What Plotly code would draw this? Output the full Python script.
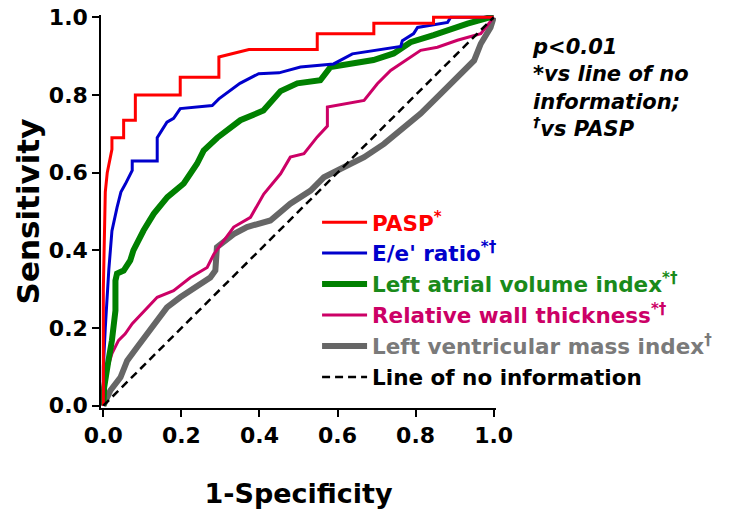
import plotly.graph_objects as go

# ---- data ----
pasp_x = [0.0, 0.0, 0.003, 0.005, 0.010, 0.018, 0.022, 0.022, 0.052, 0.052, 0.082, 0.082, 0.197, 0.197,
          0.296, 0.296, 0.373, 0.548, 0.548, 0.693, 0.693, 0.846, 0.846, 1.0]
pasp_y = [0.0, 0.30, 0.45, 0.55, 0.60, 0.64, 0.66, 0.69, 0.69, 0.735, 0.735, 0.80, 0.80, 0.846,
          0.846, 0.898, 0.917, 0.917, 0.958, 0.958, 0.985, 0.985, 1.0, 1.0]

ee_x = [0.0, 0.0, 0.005, 0.010, 0.014, 0.018, 0.022, 0.035, 0.045, 0.056, 0.074, 0.074, 0.138, 0.138,
        0.163, 0.180, 0.197, 0.279, 0.296, 0.350, 0.398, 0.450, 0.505, 0.590, 0.638, 0.762, 0.766,
        0.795, 0.805, 0.882, 0.890, 1.0]
ee_y = [0.0, 0.10, 0.20, 0.30, 0.35, 0.40, 0.45, 0.51, 0.55, 0.57, 0.606, 0.63, 0.63, 0.69,
        0.73, 0.74, 0.765, 0.773, 0.79, 0.83, 0.855, 0.857, 0.872, 0.88, 0.906, 0.925, 0.94,
        0.958, 0.974, 0.987, 1.0, 1.0]

lavi_x = [0.0, 0.002, 0.013, 0.022, 0.031, 0.031, 0.035, 0.052, 0.069, 0.077, 0.103, 0.129, 0.164,
          0.206, 0.240, 0.257, 0.292, 0.351, 0.410, 0.454, 0.497, 0.556, 0.582, 0.692, 0.744, 0.787,
          0.846, 0.864, 0.933, 0.990, 1.0]
lavi_y = [0.0, 0.047, 0.116, 0.168, 0.245, 0.322, 0.340, 0.348, 0.374, 0.400, 0.451, 0.494, 0.537,
          0.572, 0.623, 0.657, 0.690, 0.735, 0.760, 0.810, 0.830, 0.838, 0.872, 0.890, 0.907, 0.936,
          0.954, 0.961, 0.984, 1.0, 1.0]

rwt_x = [0.0, 0.0, 0.009, 0.022, 0.039, 0.056, 0.074, 0.112, 0.138, 0.180, 0.223, 0.266, 0.283,
         0.334, 0.377, 0.411, 0.454, 0.479, 0.514, 0.548, 0.574, 0.574, 0.668, 0.702, 0.736, 0.813,
         0.856, 0.907, 0.967, 1.0]
rwt_y = [0.0, 0.030, 0.090, 0.134, 0.168, 0.185, 0.211, 0.253, 0.279, 0.296, 0.330, 0.356, 0.390,
         0.460, 0.485, 0.545, 0.597, 0.640, 0.649, 0.692, 0.720, 0.769, 0.786, 0.829, 0.863, 0.915,
         0.923, 0.941, 0.958, 1.0]

lvmi_x = [0.0, 0.018, 0.044, 0.061, 0.086, 0.112, 0.138, 0.163, 0.197, 0.240, 0.274, 0.287, 0.291,
          0.334, 0.368, 0.428, 0.479, 0.531, 0.565, 0.616, 0.668, 0.719, 0.750, 0.813, 0.864, 0.907,
          0.950, 0.967, 0.992, 1.0]
lvmi_y = [0.0, 0.039, 0.073, 0.116, 0.150, 0.185, 0.219, 0.253, 0.279, 0.305, 0.330, 0.348, 0.408,
          0.442, 0.460, 0.477, 0.520, 0.554, 0.588, 0.614, 0.640, 0.674, 0.700, 0.752, 0.803, 0.846,
          0.889, 0.932, 0.974, 1.0]

ref_x = [0.0, 1.0]
ref_y = [0.0, 1.0]

tick_vals = [0.0, 0.2, 0.4, 0.6, 0.8, 1.0]
tick_text = ["0.0", "0.2", "0.4", "0.6", "0.8", "1.0"]

FONT = "DejaVu Sans"

def lbl(text, sup, color):
    s = f'<span style="color:{color}">{text}'
    if sup:
        s += f'<sup>{sup}</sup>'
    return s + '</span>'

series = [
    # (x, y, name, sup, line colour, text colour, width, rank)
    (lvmi_x, lvmi_y, "Left ventricular mass index", "\u2020", "#666666", "#7a7a7a", 6, 5),
    (rwt_x, rwt_y, "Relative wall thickness", "*\u2020", "#cc0066", "#cc0066", 3, 4),
    (lavi_x, lavi_y, "Left atrial volume index", "*\u2020", "#008000", "#1a8a1a", 6, 3),
    (ee_x, ee_y, "E/e' ratio", "*\u2020", "#0000cc", "#0000cc", 3, 2),
    (pasp_x, pasp_y, "PASP", "*", "#ff0000", "#ff0000", 3, 1),
]

fig = go.Figure()
for x, y, name, sup, lc, tc, w, rank in series:
    fig.add_trace(go.Scatter(x=x, y=y, mode="lines", name=lbl(name, sup, tc),
                             line=dict(color=lc, width=w), legendrank=rank))

fig.add_trace(go.Scatter(x=ref_x, y=ref_y, mode="lines", name="Line of no information",
                         line=dict(color="black", width=2.5, dash="8px,5px"), legendrank=6))

pad = 0.006
fig.update_layout(
    width=739, height=509,
    margin=dict(l=101, r=243, t=15, b=101, autoexpand=False),
    paper_bgcolor="white", plot_bgcolor="white",
    font=dict(family=FONT, size=22, color="black", weight="bold"),
    showlegend=True,
    legend=dict(x=0.547, y=0.525, xanchor="left", yanchor="top", itemwidth=45,
                bgcolor="rgba(0,0,0,0)", font=dict(family=FONT, size=21.5, weight="bold"),
                tracegroupgap=0),
    xaxis=dict(range=[-pad, 1 + pad], tickmode="array", tickvals=tick_vals, ticktext=tick_text,
               showline=True, linecolor="black", linewidth=1.5, ticks="outside", ticklen=7,
               tickwidth=1.5, tickcolor="black", showgrid=False, zeroline=False, automargin=False,
               tickfont=dict(family=FONT, size=22, weight="bold"),
               title=dict(text="1-Specificity", standoff=37,
                          font=dict(family=FONT, size=27, weight="bold"))),
    yaxis=dict(range=[-pad, 1 + pad], tickmode="array", tickvals=tick_vals, ticktext=tick_text,
               showline=True, linecolor="black", linewidth=1.5, ticks="outside", ticklen=7,
               tickwidth=1.5, tickcolor="black", showgrid=False, zeroline=False, automargin=False,
               tickfont=dict(family=FONT, size=22, weight="bold"),
               title=dict(text="Sensitivity", standoff=0,
                          font=dict(family=FONT, size=31, weight="bold"))),
)

fig.add_annotation(
    xref="paper", yref="paper", x=(530 - 101) / 395, y=1 - (33 - 15) / 393,
    xanchor="left", yanchor="top", align="left", showarrow=False,
    text="<i>p&lt;0.01<br>*vs line of no<br>information;<br><sup>\u2020</sup>vs PASP</i>",
    font=dict(family=FONT, size=21, color="black", weight="bold"),
)

fig.write_html("out.html")
